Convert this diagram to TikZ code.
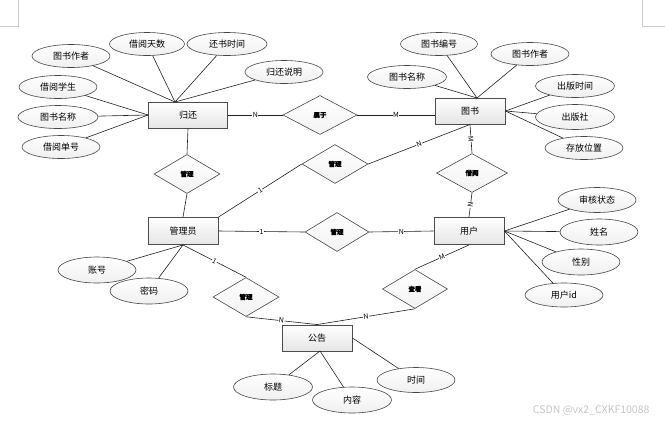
\documentclass[tikz,border=0pt]{standalone}
\usepackage{fontspec}
\setmainfont{Noto Sans CJK SC}
\newfontfamily\relfont[FakeBold=1.5]{Noto Sans CJK SC}
\usetikzlibrary{shapes.geometric}
\begin{document}
\begin{tikzpicture}[x=1pt,y=-1pt,
 ent/.style={rectangle, draw=gray!60!black, line width=0.9pt, top color=white, bottom color=gray!20, minimum width=70pt, minimum height=26pt, inner sep=0pt, font=\fontsize{9}{10}\selectfont},
 attr/.style={ellipse, draw=gray!55!black, line width=0.6pt, top color=white, bottom color=gray!12, minimum width=78pt, minimum height=23pt, inner sep=0pt, font=\fontsize{9}{10}\selectfont},
 rel/.style={diamond, draw=gray!55!black, line width=0.6pt, top color=white, bottom color=gray!10, minimum width=66pt, minimum height=39pt, inner sep=0pt, font=\relfont\bfseries\fontsize{6.5}{7}\selectfont},
 conn/.style={draw=gray!25!black, line width=0.6pt},
 lbl/.style={fill=white, inner sep=0.5pt, font=\fontsize{7}{7}\selectfont}]
\useasboundingbox (0,0) rectangle (665,424);
\fill[white] (0,0) rectangle (665,424);
% page corner marks
\draw[gray!40, line width=0.5pt] (18,0) -- (18,26) -- (0,26);
\draw[gray!40, line width=0.5pt] (642,0) -- (642,26) -- (665,26);

% entities
\node[ent, minimum width=79pt] (gh) at (188,115) {归还};
\node[ent] (ts) at (470,111) {图书};
\node[ent, minimum height=27pt] (gly) at (183,231) {管理员};
\node[ent, minimum height=27pt] (yh) at (469,231) {用户};
\node[ent] (gg) at (317,338) {公告};

% relationships
\node[rel, minimum width=74pt] (sy) at (320,115) {属于};
\node[rel] (gl1) at (187,174) {管理};
\node[rel] (gl2) at (335,164) {管理};
\node[rel, minimum width=71pt] (jy) at (472,173) {借阅};
\node[rel, minimum width=64pt] (gl3) at (337,232) {管理};
\node[rel] (gl4) at (246,297) {管理};
\node[rel, minimum width=65pt] (ck) at (415,289) {查看};

% attributes of 归还
\node[attr] (a1) at (71,56) {图书作者};
\node[attr, minimum width=75pt] (a2) at (147,44) {借阅天数};
\node[attr, minimum width=80pt] (a3) at (227,44) {还书时间};
\node[attr] (a4) at (284,72) {归还说明};
\node[attr] (a5) at (58,87) {借阅学生};
\node[attr, minimum width=80pt] (a6) at (58,117) {图书名称};
\node[attr] (a7) at (61,147) {借阅单号};
% attributes of 图书
\node[attr, minimum width=77pt] (b1) at (439,44) {图书编号};
\node[attr] (b2) at (530,54) {图书作者};
\node[attr, minimum width=79pt] (b3) at (407,77) {图书名称};
\node[attr, minimum width=79pt] (b4) at (575,86) {出版时间};
\node[attr, minimum width=79pt, minimum height=25pt] (b5) at (575,117) {出版社};
\node[attr] (b6) at (584,148) {存放位置};
% attributes of 用户
\node[attr, minimum height=25pt] (c1) at (597,200) {审核状态};
\node[attr, minimum height=26pt] (c2) at (599,232) {姓名};
\node[attr, minimum height=26pt] (c3) at (581,262) {性别};
\node[attr, minimum height=24pt] (c4) at (564,295) {用户id};
% attributes of 管理员
\node[attr, minimum height=26pt] (d1) at (97,270) {账号};
\node[attr, minimum height=26pt] (d2) at (149,291) {密码};
% attributes of 公告
\node[attr, minimum width=79pt, minimum height=26pt] (e1) at (273,387) {标题};
\node[attr, minimum width=79pt, minimum height=26pt] (e2) at (352,400) {内容};
\node[attr, minimum height=25pt] (e3) at (416,380) {时间};

% anchor points
\coordinate (ghT) at (175,102);
\coordinate (tsT) at (477,98);
\coordinate (ggB) at (320,351);

% attribute connectors
\foreach \n in {a1,a2,a3,a4} \draw[conn] (\n) -- (ghT);
\foreach \n in {a5,a6,a7} \draw[conn] (\n) -- (gh.west);
\foreach \n in {b1,b2,b3} \draw[conn] (\n) -- (tsT);
\foreach \n in {b4,b5,b6} \draw[conn] (\n) -- (ts.east);
\foreach \n in {c1,c2,c3,c4} \draw[conn] (\n) -- (yh.east);
\foreach \n in {d1,d2} \draw[conn] (\n) -- (gly.south);
\foreach \n in {e1,e2} \draw[conn] (\n) -- (ggB);
\draw[conn] (e3) -- (gg.east);

% relationship connectors
\draw[conn] (gh.east) -- node[lbl] {N} (sy.west);
\draw[conn] (sy.east) -- node[lbl] {M} (ts.west |- sy.east);
\draw[conn] (gh.south) -- (gl1.north);
\draw[conn] (gl1.south) -- (gly.north);
\draw[conn] (gly.north east) -- node[lbl, sloped] {1} (gl2.west);
\draw[conn] (gl2.east) -- node[lbl, sloped] {N} (ts.south);
\draw[conn] (ts.south) -- node[lbl, sloped] {M} (jy.north);
\draw[conn] (jy.south) -- node[lbl, sloped] {N} (yh.north);
\draw[conn] (gly.east) -- node[lbl] {1} (gl3.west);
\draw[conn] (gl3.east) -- node[lbl] {N} (yh.west);
\draw[conn] (gly.south) -- node[lbl, sloped] {1} (gl4.north);
\draw[conn] (gl4.south) -- node[lbl, sloped] {N} (gg.north);
\draw[conn] (yh.south) -- node[lbl, sloped] {M} (ck.north);
\draw[conn] (ck.south) -- node[lbl, sloped] {N} (gg.north);

% watermark
\node[text=gray!45, font=\fontsize{10.5}{11}\selectfont, anchor=east] (wm) at (653,410) {CSDN @vx2\_CXKF10088};
\end{tikzpicture}
\end{document}
